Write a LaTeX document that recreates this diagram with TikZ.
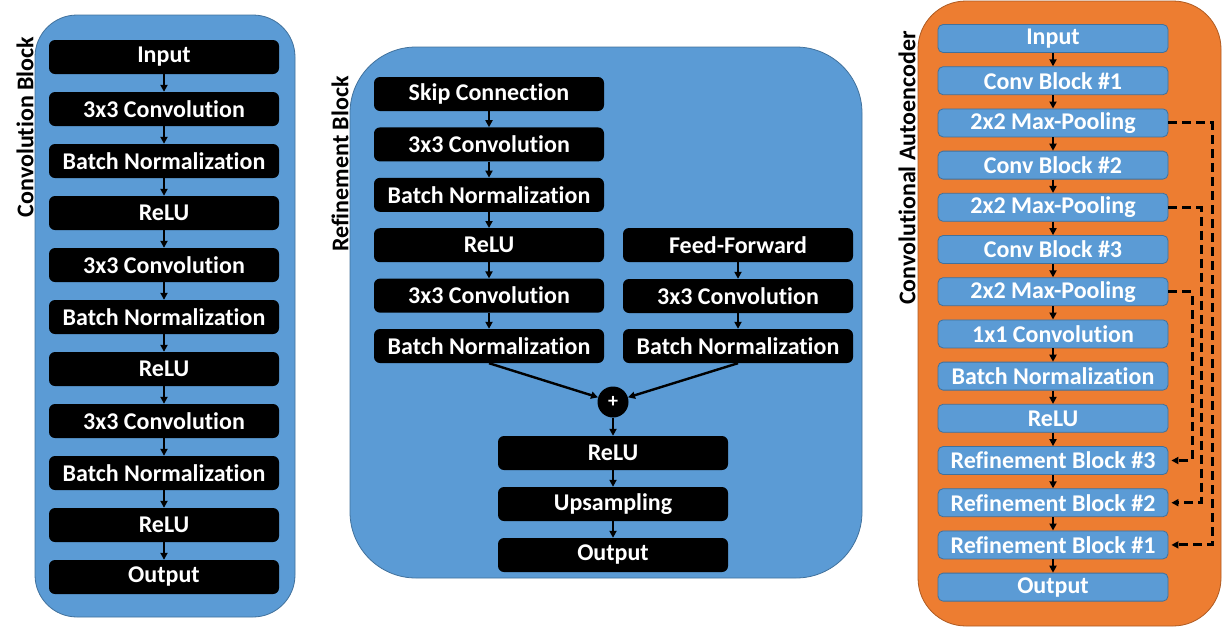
\documentclass[tikz,border=0pt]{standalone}
\usepackage{fontspec}
\setmainfont{Carlito}[Ligatures={NoCommon}]
\usetikzlibrary{arrows.meta}
\definecolor{pblue}{HTML}{5B9BD5}
\definecolor{pblueline}{HTML}{41719C}
\definecolor{porange}{HTML}{ED7D31}
\definecolor{porangeline}{HTML}{AE5A21}
\begin{document}
\begin{tikzpicture}[x=1pt,y=-1pt,
  txt/.style={font=\bfseries\fontsize{24}{28}\selectfont},
  blk/.style={txt,fill=black,rounded corners=6pt,minimum width=230pt,minimum height=34pt,text=white,inner sep=0pt},
  bbox/.style={txt,fill=pblue,draw=pblueline,line width=0.8pt,rounded corners=5pt,minimum width=230pt,minimum height=28pt,text=white,inner sep=0pt},
  arr/.style={-{Triangle[length=7pt,width=7pt]},line width=2pt},
  skiparr/.style={-{Triangle[length=7pt,width=7pt]},line width=3pt,dash pattern=on 9pt off 5pt,shorten >=3pt},
  lbl/.style={txt,rotate=90,inner sep=0pt}
]
\useasboundingbox (0,0) rectangle (1222,627);
% panels
\draw[fill=pblue,draw=pblueline,line width=0.8pt,rounded corners=42pt] (35,15) rectangle (295,617);
\draw[fill=pblue,draw=pblueline,line width=0.8pt,rounded corners=66pt] (350,47) rectangle (862,578);
\draw[fill=porange,draw=porangeline,line width=0.8pt,rounded corners=48pt] (918,1) rectangle (1221,626);
% labels
\node[lbl] (l1) at (25,127) {Convolution Block};
\node[lbl] (l2) at (340,164) {Refinement Block};
\node[lbl] (l3) at (907,168) {Convolutional Autoencoder};
% left column
\foreach \t [count=\i from 0] in {Input,3x3 Convolution,Batch Normalization,ReLU,3x3 Convolution,Batch Normalization,ReLU,3x3 Convolution,Batch Normalization,ReLU,Output}{
  \node[blk] (c\i) at (164,57+52*\i) {\t};
}
\foreach \i [evaluate=\i as \j using int(\i+1)] in {0,...,9}{
  \draw[arr] (c\i.south) -- (c\j.north);
}
% middle
\foreach \t [count=\i from 0] in {Skip Connection,3x3 Convolution,Batch Normalization,ReLU,3x3 Convolution,Batch Normalization}{
  \node[blk] (m\i) at (489,94+50.4*\i) {\t};
}
\foreach \i [evaluate=\i as \j using int(\i+1)] in {0,...,4}{
  \draw[arr] (m\i.south) -- (m\j.north);
}
\node[blk] (f0) at (738,245) {Feed-Forward};
\node[blk] (f1) at (738,296) {3x3 Convolution};
\node[blk] (f2) at (738,346) {Batch Normalization};
\draw[arr] (f0.south) -- (f1.north);
\draw[arr] (f1.south) -- (f2.north);
\node[circle,fill=black,minimum size=31pt,inner sep=0pt,text=white,font=\bfseries\fontsize{20}{22}\selectfont] (plus) at (613,402) {+};
\draw[arr,line width=2.4pt] (m5.south) -- (plus);
\draw[arr,line width=2.4pt] (f2.south) -- (plus);
\node[blk] (o0) at (613,453) {ReLU};
\node[blk] (o1) at (613,504) {Upsampling};
\node[blk] (o2) at (613,555) {Output};
\draw[arr] (plus.south) -- (o0.north);
\draw[arr] (o0.south) -- (o1.north);
\draw[arr] (o1.south) -- (o2.north);
% right column
\foreach \t [count=\i from 0] in {Input,Conv Block \#1,2x2 Max-Pooling,Conv Block \#2,2x2 Max-Pooling,Conv Block \#3,2x2 Max-Pooling,1x1 Convolution,Batch Normalization,ReLU,Refinement Block \#3,Refinement Block \#2,Refinement Block \#1,Output}{
  \node[bbox] (r\i) at (1053,38.5+42.2*\i) {\t};
}
\foreach \i [evaluate=\i as \j using int(\i+1)] in {0,...,12}{
  \draw[arr] (r\i.south) -- (r\j.north);
}
\coordinate (d1) at (1212,0);
\coordinate (d2) at (1201,0);
\coordinate (d3) at (1192,0);
\draw[skiparr] (r2.east) -- (r2.east -| d1) -- (r12.east -| d1) -- (r12.east);
\draw[skiparr] (r4.east) -- (r4.east -| d2) -- (r11.east -| d2) -- (r11.east);
\draw[skiparr] (r6.east) -- (r6.east -| d3) -- (r10.east -| d3) -- (r10.east);
\end{tikzpicture}
\end{document}
